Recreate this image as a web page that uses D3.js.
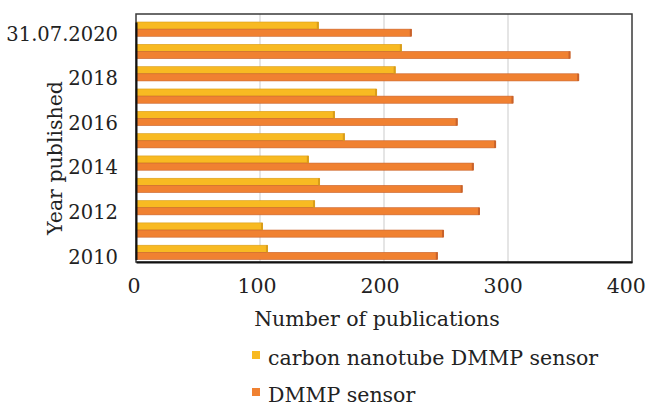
<!DOCTYPE html>
<html>
<head>
<meta charset="utf-8">
<script src="https://cdn.jsdelivr.net/npm/d3@7"></script>
<style>
  html, body { margin: 0; padding: 0; background: #fff; }
  svg { display: block; }
  text { font-family: "DejaVu Serif", "Liberation Serif", serif; fill: #222; }
</style>
</head>
<body>
<svg id="chart" width="646" height="408"></svg>
<script>
// Publications per year, top row first
const years = ["31.07.2020", "2019", "2018", "2017", "2016", "2015", "2014", "2013", "2012", "2011", "2010"];
const cntSensor = [147, 214, 209, 194, 160, 168, 139, 148, 144, 102, 106];
const dmmpSensor = [222, 350, 357, 304, 259, 290, 272, 263, 277, 248, 243];
const yearTicks = ["31.07.2020", "2018", "2016", "2014", "2012", "2010"];
const xTicks = [0, 100, 200, 300, 400];
const seriesNames = ["carbon nanotube DMMP sensor", "DMMP sensor"];

const colors = {
  "carbon nanotube DMMP sensor": { fill: "#F8BA22", edge: "#D99D1A" },
  "DMMP sensor": { fill: "#F08131", edge: "#C9622A" }
};

const FONT = "'DejaVu Serif', 'Liberation Serif', serif";
const FS = 20.5;

const svg = d3.select("#chart");
const plot = { left: 136, right: 632, top: 14, bottom: 262 };

const x = d3.scaleLinear().domain([0, 400]).range([plot.left, plot.right]);
const y = d3.scaleBand().domain(years).range([22, 259.5]).paddingInner(0.36).paddingOuter(0);
const ySub = d3.scaleBand().domain(seriesNames).range([0, y.bandwidth()]);

// vertical gridlines
svg.append("g")
  .selectAll("line")
  .data(xTicks.slice(1, -1))
  .join("line")
  .attr("x1", d => x(d)).attr("x2", d => x(d))
  .attr("y1", plot.top).attr("y2", plot.bottom)
  .attr("stroke", "#dcdcdc").attr("stroke-width", 1.5);

// bars
const rows = years.map((yr, i) => ({
  year: yr,
  values: [
    { name: seriesNames[0], v: cntSensor[i] },
    { name: seriesNames[1], v: dmmpSensor[i] }
  ]
}));

const groups = svg.append("g")
  .selectAll("g")
  .data(rows)
  .join("g")
  .attr("transform", d => `translate(0,${y(d.year)})`);

groups.selectAll("rect.bar")
  .data(d => d.values)
  .join("rect")
  .attr("class", "bar")
  .attr("x", x(0))
  .attr("y", d => ySub(d.name))
  .attr("width", d => x(d.v) - x(0))
  .attr("height", ySub.bandwidth())
  .attr("fill", d => colors[d.name].fill)
  .attr("stroke", d => colors[d.name].edge)
  .attr("stroke-width", 0.6);

// darker end caps on each bar
groups.selectAll("rect.cap")
  .data(d => d.values)
  .join("rect")
  .attr("class", "cap")
  .attr("x", d => x(d.v) - 1.5)
  .attr("y", d => ySub(d.name))
  .attr("width", 2)
  .attr("height", ySub.bandwidth())
  .attr("fill", d => colors[d.name].edge);

// plot frame
svg.append("rect")
  .attr("x", plot.left).attr("y", plot.top)
  .attr("width", plot.right - plot.left).attr("height", plot.bottom - plot.top)
  .attr("fill", "none").attr("stroke", "#3a3a3a").attr("stroke-width", 1.5);

// axes
const xAxis = d3.axisBottom(x).tickValues(xTicks).tickSize(0).tickPadding(0);
const gx = svg.append("g").attr("transform", `translate(0,${plot.bottom})`).call(xAxis);
gx.select(".domain").attr("stroke", "#111").attr("stroke-width", 2);
gx.selectAll("text")
  .attr("font-size", FS)
  .attr("dx", d => -2.5 - d * 0.0095)
  .attr("dy", 0)
  .attr("y", 31)
  .attr("fill", "#222")
  .style("font-family", FONT);

const yAxis = d3.axisLeft(y).tickValues(yearTicks).tickSize(0).tickPadding(0);
const gy = svg.append("g").attr("transform", `translate(${plot.left},0)`).call(yAxis);
gy.select(".domain").attr("stroke", "#111").attr("stroke-width", 2);
gy.selectAll("text")
  .attr("font-size", 19.5)
  .attr("x", -18)
  .attr("dy", "0.66em")
  .attr("y", -1.5)
  .attr("fill", "#222")
  .style("font-family", FONT);

// axis titles
svg.append("text")
  .attr("x", 377).attr("y", 326)
  .attr("text-anchor", "middle")
  .attr("font-size", FS)
  .text("Number of publications");

svg.append("text")
  .attr("transform", "translate(62,158) rotate(-90)")
  .attr("text-anchor", "middle")
  .attr("font-size", FS)
  .text("Year published");

// legend
const legend = svg.append("g")
  .selectAll("g")
  .data(seriesNames)
  .join("g")
  .attr("transform", (d, i) => `translate(252,${351 + i * 37})`);

legend.append("rect")
  .attr("width", 8).attr("height", 8)
  .attr("fill", d => colors[d].fill);

legend.append("text")
  .attr("x", 16).attr("y", 14)
  .attr("font-size", FS)
  .text(d => d);
</script>
</body>
</html>
